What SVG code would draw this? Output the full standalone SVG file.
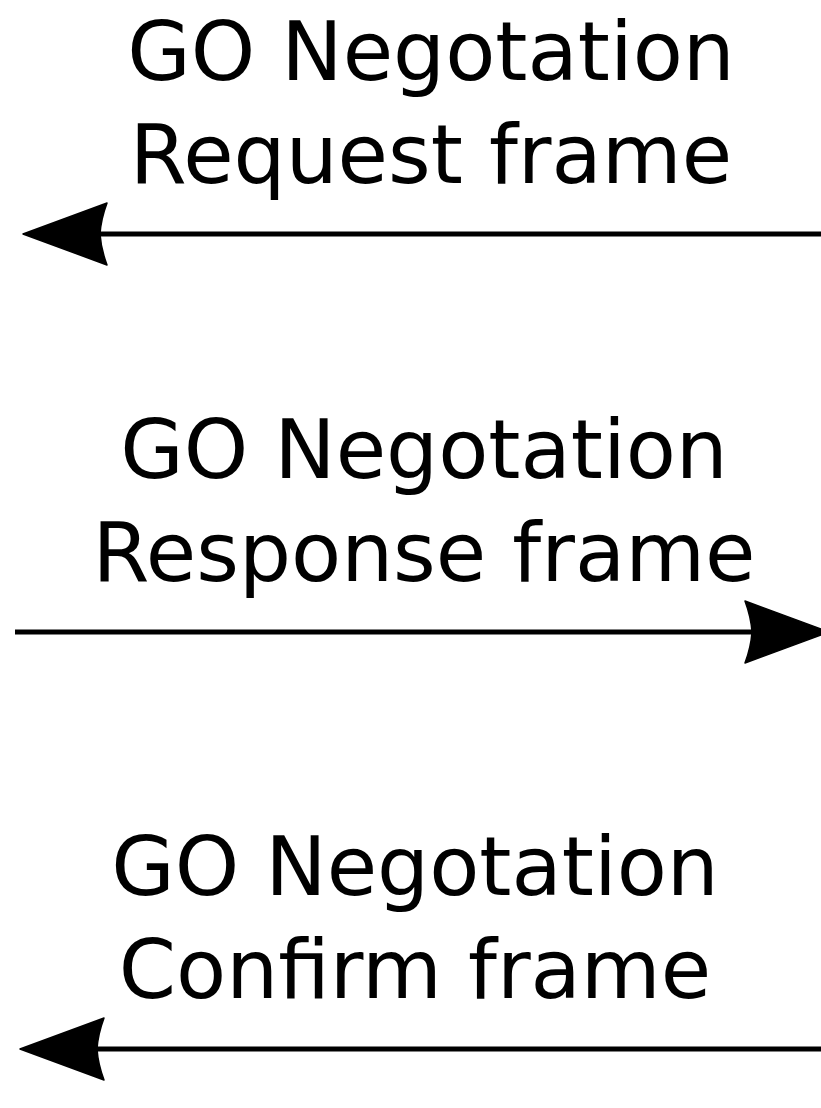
<svg xmlns="http://www.w3.org/2000/svg" width="821" height="1108" viewBox="0 0 821 1108">
  <style>
    .lbl { font-family: "DejaVu Sans", "Liberation Sans", sans-serif; font-size: 82px; fill: #000; text-anchor: middle; }
    .ln { stroke: #000; stroke-width: 5; fill: none; }
    .hd { fill: #000; stroke: #000; stroke-width: 1.5; stroke-linejoin: round; }
  </style>
  <defs>
    <path id="head" d="M0,0 L84,-31 Q78,-15 77,0 Q78,15 84,31 Z"/>
  </defs>
  <rect width="821" height="1108" fill="#fff"/>
  <g id="label-request">
    <text class="lbl" x="431" y="80">GO Negotation</text>
    <text class="lbl" x="431" y="183">Request frame</text>
  </g>
  <g id="label-response">
    <text class="lbl" x="424" y="478">GO Negotation</text>
    <text class="lbl" x="424" y="581">Response frame</text>
  </g>
  <g id="label-confirm">
    <text class="lbl" x="415" y="895">GO Negotation</text>
    <text class="lbl" x="415" y="998">Confirm frame</text>
  </g>
  <g id="connectors">
    <line class="ln" x1="90" y1="234" x2="821" y2="234"/>
    <use href="#head" class="hd" transform="translate(23,234)"/>
    <line class="ln" x1="15" y1="632" x2="760" y2="632"/>
    <use href="#head" class="hd" transform="translate(829,632) scale(-1,1)"/>
    <line class="ln" x1="90" y1="1049" x2="821" y2="1049"/>
    <use href="#head" class="hd" transform="translate(20,1049)"/>
  </g>
</svg>
